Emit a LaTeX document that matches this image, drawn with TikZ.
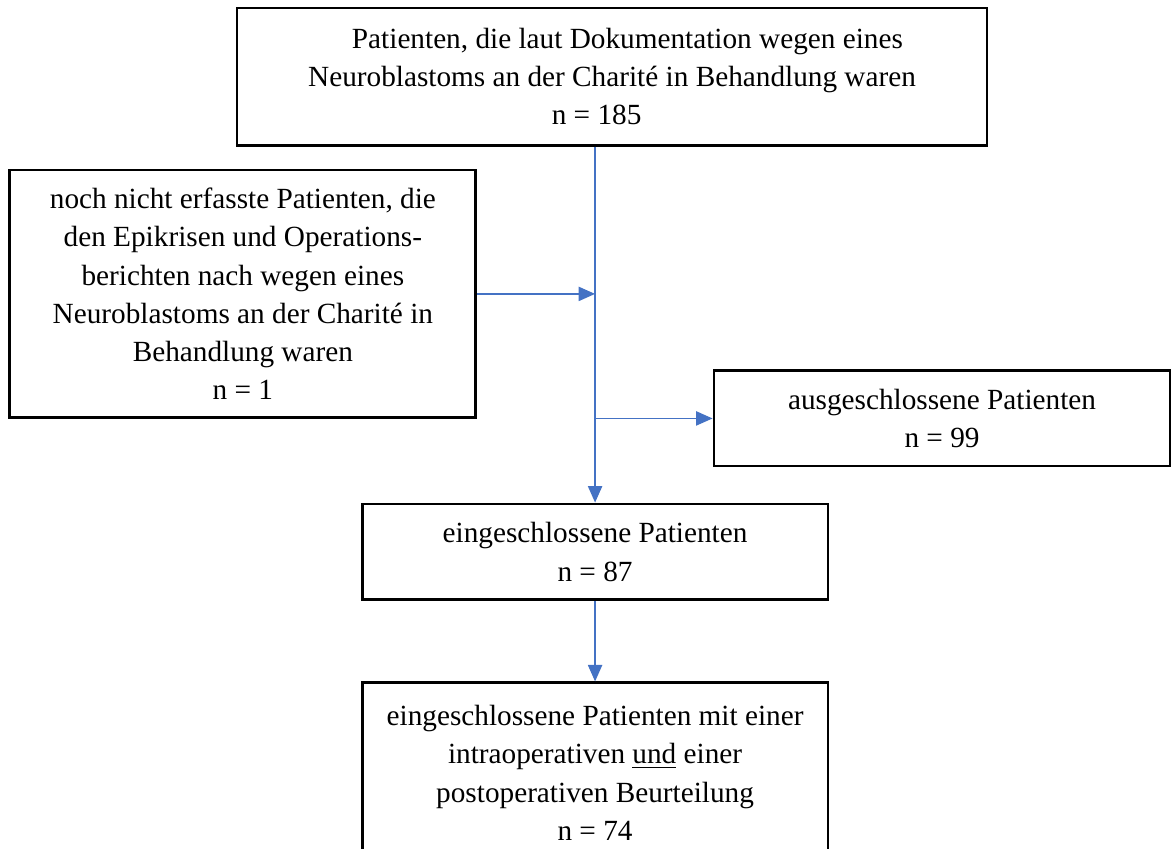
\documentclass[tikz,border=0pt]{standalone}
\usepackage{fontspec}
\setmainfont{Liberation Serif}
\usetikzlibrary{arrows.meta}
\definecolor{flowblue}{HTML}{4472C4}
\begin{document}
\begin{tikzpicture}
        [
        box node/.style = {rectangle, draw=black, line width=1.3pt, align=center, inner sep=2pt,
                           font=\fontsize{13.3pt}{17.4pt}\selectfont},
        flow line/.style = {draw=flowblue, line width=0.6pt},
        flow arrow/.style = {flow line, -{Triangle[length=7.5pt,width=6.5pt]}},
        ]
        \clip (0pt,0pt) rectangle (533.2pt,-385.9pt);

        \node[box node, minimum width=340.9pt, minimum height=62.3pt] (total) at (278.2pt,-34.8pt)
            {\hspace*{14pt}Patienten, die laut Dokumentation wegen eines\\
             Neuroblastoms an der Charité in Behandlung waren\\
             n = 185\hspace*{14pt}};
        \node[box node, minimum width=211.8pt, minimum height=112.7pt] (added) at (110.4pt,-133.6pt)
            {noch nicht erfasste Patienten, die\\
             den Epikrisen und Operations-\\
             berichten nach wegen eines\\
             Neuroblastoms an der Charité in\\
             Behandlung waren\\
             n = 1};
        \node[box node, minimum width=207.3pt, minimum height=43.2pt] (excluded) at (428.2pt,-190.2pt)
            {ausgeschlossene Patienten\\
             n = 99};
        \node[box node, minimum width=211.8pt, minimum height=43.6pt] (included) at (270.5pt,-250.9pt)
            {eingeschlossene Patienten\\
             n = 87};
        \node[box node, minimum width=211.8pt, minimum height=81.8pt] (assessed) at (270.5pt,-351.3pt)
            {eingeschlossene Patienten mit einer\\
             intraoperativen \underline{und} einer\\
             postoperativen Beurteilung\\
             n = 74};

        \draw[flow arrow] (total.south -| included.north) -- (included.north);
        \draw[flow arrow] (added.east) -- (added.east -| included.north);
        \draw[flow arrow] (excluded.west -| included.north) -- (excluded.west);
        \draw[flow arrow] (included.south) -- (assessed.north);
\end{tikzpicture}
\end{document}
